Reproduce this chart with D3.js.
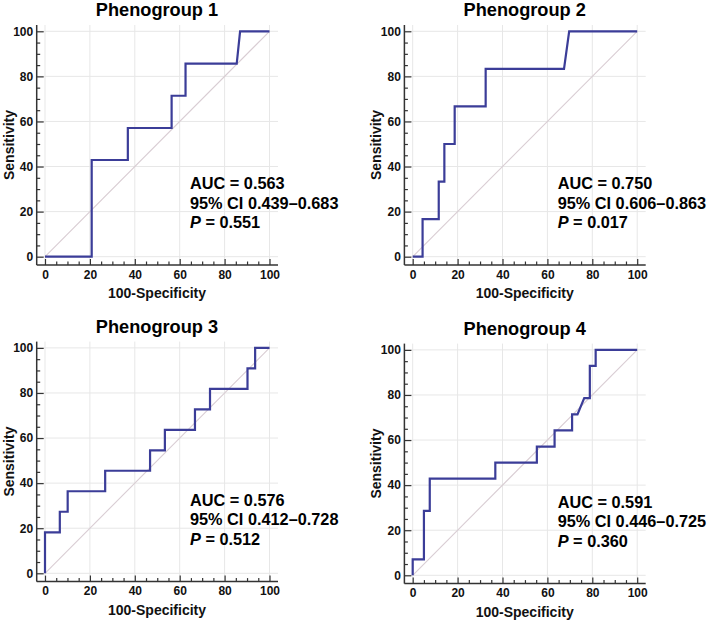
<!DOCTYPE html>
<html>
<head>
<meta charset="utf-8">
<script src="https://cdn.jsdelivr.net/npm/d3@7"></script>
<style>
  html, body { margin: 0; padding: 0; background: #fff; }
  svg { display: block; font-family: "Liberation Sans", Arial, sans-serif; }
</style>
</head>
<body>
<svg id="chart" width="709" height="620"></svg>
<script>
// ---- Data ----
const titles = ["Phenogroup 1", "Phenogroup 2", "Phenogroup 3", "Phenogroup 4"];
const xTicks = [0, 20, 40, 60, 80, 100];
const yTicks = [0, 20, 40, 60, 80, 100];

const fpr1 = [0, 20.8, 20.8, 36.9, 36.9, 56.4, 56.4, 62.6, 62.6, 85.4, 86.9, 100];
const tpr1 = [0, 0, 42.9, 42.9, 57.1, 57.1, 71.4, 71.4, 85.7, 85.7, 100, 100];

const fpr2 = [0, 4.4, 4.4, 11.6, 11.6, 14.1, 14.1, 18.7, 18.7, 32.5, 32.5, 67.4, 69.7, 100];
const tpr2 = [0, 0, 16.7, 16.7, 33.3, 33.3, 50, 50, 66.7, 66.7, 83.3, 83.3, 100, 100];

const fpr3 = [0, 0, 6.6, 6.6, 10.1, 10.1, 26.8, 26.8, 46.8, 46.8, 53.4, 53.4, 66.8, 66.8, 73.5, 73.5, 90.2, 90.2, 93.6, 93.6, 100];
const tpr3 = [0, 18.2, 18.2, 27.3, 27.3, 36.4, 36.4, 45.5, 45.5, 54.5, 54.5, 63.6, 63.6, 72.7, 72.7, 81.8, 81.8, 90.9, 90.9, 100, 100];

const fpr4 = [0, 0, 5.0, 5.0, 7.6, 7.6, 36.8, 36.8, 55.3, 55.3, 63.2, 63.2, 71.0, 71.0, 73.4, 76.4, 78.9, 78.9, 81.5, 81.5, 100];
const tpr4 = [0, 7.1, 7.1, 28.6, 28.6, 42.9, 42.9, 50, 50, 57.1, 57.1, 64.3, 64.3, 71.4, 71.4, 78.6, 78.6, 92.9, 92.9, 100, 100];

const aucText = ["AUC = 0.563", "AUC = 0.750", "AUC = 0.576", "AUC = 0.591"];
const ciText = ["95% CI 0.439\u20130.683", "95% CI 0.606\u20130.863", "95% CI 0.412\u20130.728", "95% CI 0.446\u20130.725"];
const pText = ["0.551", "0.017", "0.512", "0.360"];

const fprs = [fpr1, fpr2, fpr3, fpr4];
const tprs = [tpr1, tpr2, tpr3, tpr4];

// ---- Layout ----
const offsets = [[0, 0], [367.7, 0], [0, 316.6], [367.7, 318.6]];
const rocColor = "#3b3d98";
const diagColor = "#d9cdd3";
const gridColor = "#e7e7e7";
const axisColor = "#333";

const svg = d3.select("#chart");

titles.forEach((title, i) => {
  const [dx, dy] = offsets[i];
  const g = svg.append("g").attr("transform", `translate(${dx},${dy})`);
  const x = d3.scaleLinear().domain([0, 100]).range([45, 269.5]);
  const y = d3.scaleLinear().domain([0, 100]).range([256.7, 31.3]);
  const left = 36.7, right = 278, top = 25, bottom = 265;

  // gridlines
  g.append("g").selectAll("line.vg").data(xTicks).join("line")
    .attr("x1", d => x(d)).attr("x2", d => x(d))
    .attr("y1", top).attr("y2", bottom)
    .attr("stroke", gridColor).attr("stroke-width", 1);
  g.append("g").selectAll("line.hg").data(yTicks).join("line")
    .attr("y1", d => y(d)).attr("y2", d => y(d))
    .attr("x1", left).attr("x2", right)
    .attr("stroke", gridColor).attr("stroke-width", 1);

  // diagonal
  g.append("line")
    .attr("x1", x(0)).attr("y1", y(0)).attr("x2", x(100)).attr("y2", y(100))
    .attr("stroke", diagColor).attr("stroke-width", 1.1);

  // ROC curve
  const pts = fprs[i].map((f, k) => [f, tprs[i][k]]);
  g.append("path")
    .datum(pts)
    .attr("d", d3.line().x(d => x(d[0])).y(d => y(d[1])))
    .attr("fill", "none")
    .attr("stroke", rocColor)
    .attr("stroke-width", 2.2)
    .attr("stroke-linejoin", "miter");

  // axes
  const xAxis = g.append("g").attr("transform", `translate(0,${bottom})`)
    .call(d3.axisBottom(x).tickValues(xTicks).tickSize(-6).tickPadding(5));
  const xMinor = g.append("g").attr("transform", `translate(0,${bottom})`)
    .call(d3.axisBottom(x).tickValues(d3.range(5, 100, 5).filter(v => v % 20 !== 0)).tickSize(-3.5).tickFormat(""));
  const yAxis = g.append("g").attr("transform", `translate(${left},0)`)
    .call(d3.axisLeft(y).tickValues(yTicks).tickSize(-7).tickPadding(3.5));
  const yMinor = g.append("g").attr("transform", `translate(${left},0)`)
    .call(d3.axisLeft(y).tickValues(d3.range(5, 100, 5).filter(v => v % 20 !== 0)).tickSize(-3.5).tickFormat(""));
  [xAxis, xMinor, yAxis, yMinor].forEach(a => {
    a.select(".domain").remove();
    a.selectAll(".tick line").attr("stroke", axisColor).attr("stroke-width", 1.2);
    a.selectAll(".tick text").attr("fill", "#111").attr("font-size", 12).attr("font-weight", "bold")
      .attr("font-family", "'Liberation Sans', Arial, sans-serif");
  });

  // spines
  g.append("line").attr("x1", left).attr("x2", left).attr("y1", top).attr("y2", bottom)
    .attr("stroke", axisColor).attr("stroke-width", 1.5);
  g.append("line").attr("x1", left).attr("x2", right).attr("y1", bottom).attr("y2", bottom)
    .attr("stroke", axisColor).attr("stroke-width", 1.5);

  // title
  g.append("text").attr("x", 157).attr("y", 16)
    .attr("text-anchor", "middle").attr("font-size", 18.2).attr("font-weight", "bold")
    .attr("fill", "#000").text(title);

  // axis labels
  g.append("text").attr("x", 157).attr("y", 298)
    .attr("text-anchor", "middle").attr("font-size", 14).attr("font-weight", "bold")
    .attr("fill", "#111").text("100-Specificity");
  g.append("text").attr("transform", `translate(13.5,145) rotate(-90)`)
    .attr("text-anchor", "middle").attr("font-size", 14).attr("font-weight", "bold")
    .attr("fill", "#111").text("Sensitivity");

  // stats
  const sx = 190;
  g.append("text").attr("x", sx).attr("y", 189).attr("font-size", 16.3).attr("font-weight", "bold")
    .attr("fill", "#000").text(aucText[i]);
  g.append("text").attr("x", sx).attr("y", 208.5).attr("font-size", 16.3).attr("font-weight", "bold")
    .attr("fill", "#000").text(ciText[i]);
  const pt = g.append("text").attr("x", sx).attr("y", 228).attr("font-size", 16.3).attr("font-weight", "bold")
    .attr("fill", "#000");
  pt.append("tspan").attr("font-style", "italic").text("P");
  pt.append("tspan").text(" = " + pText[i]);
});
</script>
</body>
</html>
